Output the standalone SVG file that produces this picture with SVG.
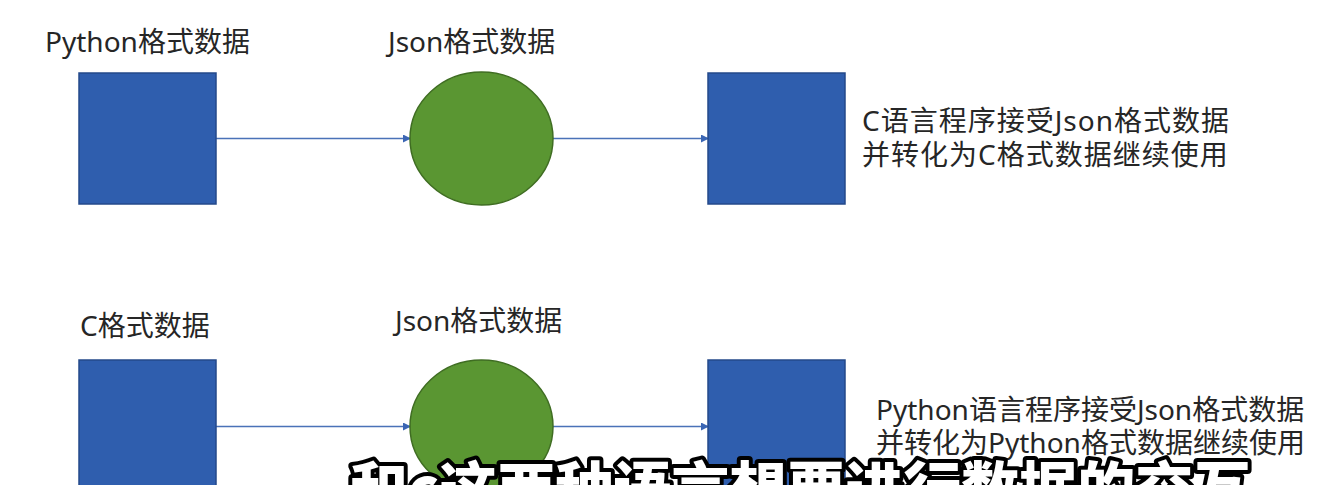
<svg xmlns="http://www.w3.org/2000/svg" width="1336" height="485" viewBox="0 0 1336 485">
<style>
  .lbl { font-family: "Noto Sans", "Noto Sans CJK SC", sans-serif; font-size: 28px; fill: #262626; }
  .wide { letter-spacing: 1px; }
  .sq { fill: #2f5eae; stroke: #24498a; stroke-width: 1.5; }
  .ci { fill: #5a9632; stroke: #3f6d22; stroke-width: 1.5; }
  .conn { stroke: #4a72b8; stroke-width: 1.5; fill: none; marker-end: url(#arr); }
  .sub { font-family: "Noto Sans CJK SC", sans-serif; font-weight: 900; font-size: 58px; fill: #ffffff; stroke: #000000; stroke-width: 8; paint-order: stroke; stroke-linejoin: round; }
</style>
<defs>
  <marker id="arr" markerWidth="8" markerHeight="8" refX="7" refY="4" orient="auto" markerUnits="userSpaceOnUse">
    <path d="M0,0 L8,4 L0,8 Z" fill="#3b66b4"/>
  </marker>
</defs>
<rect width="1336" height="485" fill="#ffffff"/>

<g id="connectors">
  <line class="conn" x1="216" y1="138.5" x2="410" y2="138.5"/>
  <line class="conn" x1="553" y1="138.5" x2="708" y2="138.5"/>
  <line class="conn" x1="216" y1="426.5" x2="410" y2="426.5"/>
  <line class="conn" x1="553" y1="426.5" x2="708" y2="426.5"/>
</g>

<g id="py-src">
  <text class="lbl" x="45" y="52">Python格式数据</text>
  <rect class="sq" x="79" y="73" width="137" height="131"/>
</g>
<g id="json-top">
  <text class="lbl" x="388" y="52">Json格式数据</text>
  <ellipse class="ci" cx="481.5" cy="138.5" rx="71.5" ry="66.5"/>
</g>
<g id="c-dst">
  <rect class="sq" x="708" y="73" width="137" height="131"/>
  <text class="lbl wide" x="862" y="131">C语言程序接受Json格式数据</text>
  <text class="lbl wide" x="862" y="165">并转化为C格式数据继续使用</text>
</g>

<g id="c-src">
  <text class="lbl" x="80" y="336">C格式数据</text>
  <rect class="sq" x="79" y="360" width="137" height="131"/>
</g>
<g id="json-bottom">
  <text class="lbl" x="395" y="331">Json格式数据</text>
  <ellipse class="ci" cx="481.5" cy="426.5" rx="71.5" ry="66.5"/>
</g>
<g id="py-dst">
  <rect class="sq" x="708" y="360" width="137" height="131"/>
  <text class="lbl" x="876" y="420">Python语言程序接受Json格式数据</text>
  <text class="lbl" x="876" y="453">并转化为Python格式数据继续使用</text>
</g>

<g id="subtitle">
  <text class="sub" x="350" y="510">和c这两种语言想要进行数据的交互</text>
</g>
</svg>
